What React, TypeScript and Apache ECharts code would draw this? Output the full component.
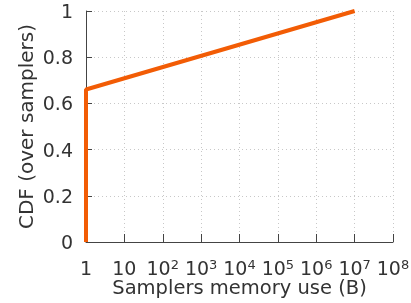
import React, { useEffect, useRef } from "react";
import * as echarts from "echarts";

const memoryUse: number[] = [1, 1, 1e7];
const cdfValues: number[] = [0, 0.66, 1];
const yTicks: number[] = [0, 0.2, 0.4, 0.6, 0.8, 1];
const xExponents: number[] = [0, 1, 2, 3, 4, 5, 6, 7, 8];

export default function App() {
  const ref = useRef<HTMLDivElement>(null);
  useEffect(() => {
    if (!ref.current) return;
    const chart = echarts.init(ref.current, null, { renderer: "svg" });
    const font = "DejaVu Sans";
    const txt = "#333";
    chart.setOption({
      animation: false,
      grid: { left: 86, right: 18, top: 11, bottom: 61, containLabel: false, outerBoundsMode: "none" },
      xAxis: {
        type: "log",
        logBase: 10,
        min: 1,
        max: 1e8,
        name: "Samplers memory use (B)",
        nameLocation: "middle",
        nameGap: 35,
        nameMoveOverlap: false,
        nameTextStyle: { fontFamily: font, fontSize: 19.5, color: txt },
        axisLine: { show: true, lineStyle: { color: "#444", width: 1 } },
        axisTick: { show: true, inside: true, length: 8, lineStyle: { color: "#444" } },
        minorTick: { show: false },
        splitLine: { show: true, lineStyle: { color: "#c8c8c8", type: [1, 3], width: 1 } },
        axisLabel: {
          margin: 16,
          fontFamily: font,
          fontSize: 19,
          color: txt,
          formatter: (v: number) => {
            const e = Math.round(Math.log10(v));
            if (!xExponents.includes(e)) return "";
            if (e === 0) return "{b|1}";
            if (e === 1) return "{b|10}";
            return "{b|10}{sup|" + e + "}";
          },
          rich: {
            b: { fontFamily: font, fontSize: 19, color: txt, lineHeight: 20 },
            sup: { fontFamily: font, fontSize: 13, color: txt, verticalAlign: "top", padding: [0, 0, 9, 0], lineHeight: 20 },
          },
        },
      },
      yAxis: {
        type: "value",
        min: 0,
        max: 1,
        interval: 0.2,
        name: "CDF (over samplers)",
        nameLocation: "middle",
        nameGap: 50,
        nameMoveOverlap: false,
        nameTextStyle: { fontFamily: font, fontSize: 20, color: txt },
        axisLine: { show: true, lineStyle: { color: "#444", width: 1 } },
        axisTick: { show: true, inside: true, length: 6, lineStyle: { color: "#444" } },
        splitLine: { show: true, lineStyle: { color: "#c8c8c8", type: [1, 3], width: 1 } },
        axisLabel: {
          margin: 13,
          fontFamily: font,
          fontSize: 19,
          color: txt,
          formatter: (v: number) => {
            const t = yTicks.find((y) => Math.abs(y - v) < 1e-9);
            return t === undefined ? "" : String(t);
          },
        },
      },
      series: [
        {
          type: "line",
          data: memoryUse.map((x, i) => [x, cdfValues[i]]),
          showSymbol: false,
          symbol: "none",
          lineStyle: { color: "#f25c05", width: 4 },
          clip: false,
        },
      ],
    });
    return () => chart.dispose();
  }, []);
  return (
    <div
      ref={ref}
      style={{ position: "fixed", left: 0, top: 0, width: 411, height: 303 }}
    />
  );
}
